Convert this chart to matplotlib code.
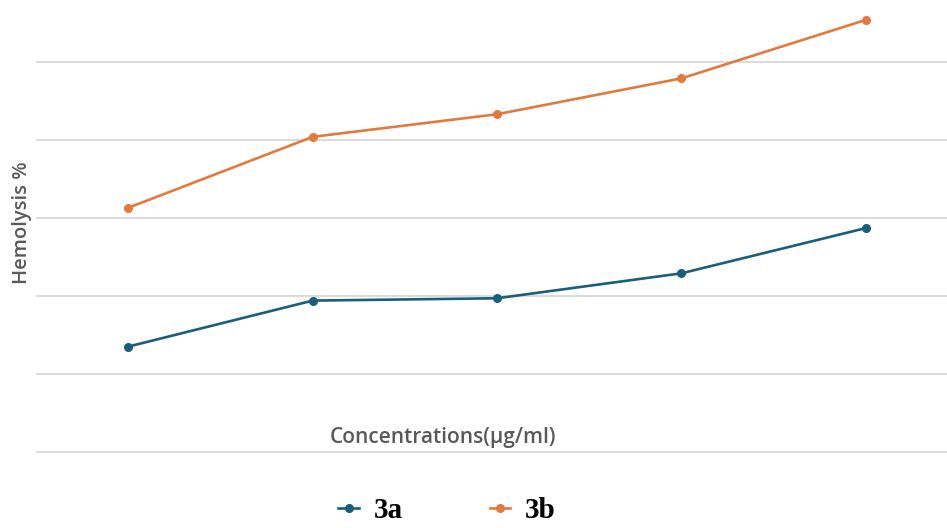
import matplotlib.pyplot as plt

# concentration steps (no tick labels shown in the original)
conc = [0, 1, 2, 3, 4]
# in gridline units
hemo_3a = [1.35, 1.94, 1.97, 2.29, 2.87]
hemo_3b = [3.13, 4.04, 4.33, 4.79, 5.54]
grid_vals = [0, 1, 2, 3, 4, 5]

c_3a = "#1a5e7e"
c_3b = "#e27a3f"

fig = plt.figure(figsize=(9.47, 5.28), dpi=100)
ax = fig.add_axes([36 / 947, (528 - 455) / 528, 1 - 36 / 947, 455 / 528])

for g in grid_vals:
    ax.axhline(g, color="#d9d9d9", lw=1.3, zorder=0)

ax.plot(conc, hemo_3a, color=c_3a, lw=1.9, marker="o", ms=5.5, label="3a")
ax.plot(conc, hemo_3b, color=c_3b, lw=1.9, marker="o", ms=5.5, label="3b")

ax.set_xlim(-0.5, 4.44)
ax.set_ylim(-0.04, 5.795)
ax.set_xticks([])
ax.set_yticks([])
for s in ax.spines.values():
    s.set_visible(False)

fig.text(22 / 947, 1 - 223 / 528, "Hemolysis %", rotation=90, ha="center", va="center",
         fontsize=14.5, color="#595959", family="Open Sans", fontweight="semibold")
fig.text(443 / 947, 1 - 437 / 528, "Concentrations(µg/ml)", ha="center", va="center",
         fontsize=15, color="#595959", family="Open Sans", fontweight="semibold")

leg = fig.legend(loc="center", bbox_to_anchor=(447 / 947, 1 - 511 / 528), ncol=2, frameon=False,
                 handlelength=0.7, handletextpad=0.5, columnspacing=3.0,
                 prop={"family": "Liberation Serif", "weight": "bold", "size": 21})

fig.savefig("out.png", dpi=100)
